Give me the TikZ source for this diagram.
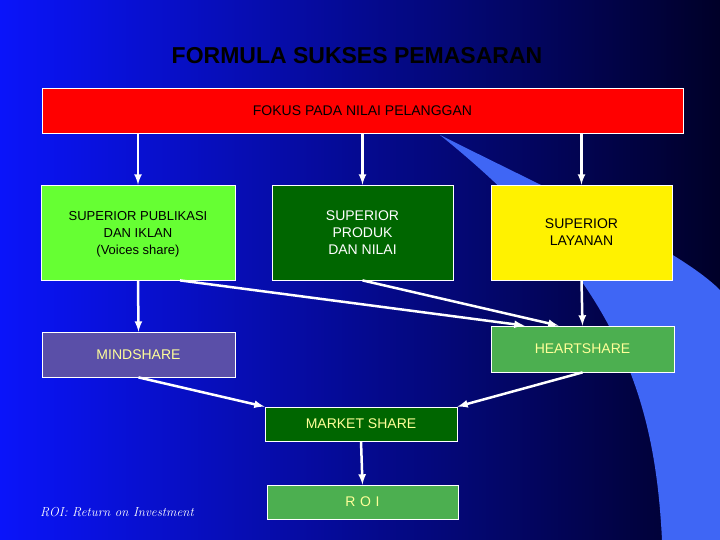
\documentclass[tikz,border=0pt]{standalone}
\usepackage{fontspec}
\setsansfont{Liberation Sans}
\usetikzlibrary{calc}
\tikzset{>=latex}
\tikzset{box/.style={draw=white,line width=0.8pt,inner sep=0pt,font=\sffamily\fontsize{14}{17}\selectfont,align=center}}
\tikzset{arr/.style={->,white,line width=2.5pt,shorten >=0pt}}
\definecolor{litegreen}{HTML}{66FF33}
\definecolor{darkgreen}{HTML}{006600}
\definecolor{midgreen}{HTML}{4CAF50}
\definecolor{mindblue}{HTML}{5A4FA8}
\definecolor{softyellow}{HTML}{FFFF99}
\definecolor{streak}{HTML}{3F66F5}
\begin{document}
\begin{tikzpicture}[x=1pt,y=-1pt]
        \useasboundingbox (0,0) rectangle (720,540);
        \shade[left color={rgb,255:red,10;green,20;blue,250},right color={rgb,255:red,0;green,0;blue,40}] (0,0) rectangle (720,540);
        \fill[streak] (440,135) .. controls (570,200) and (680,250) .. (720,290) -- (720,540) -- (662,540)
            .. controls (655,400) and (620,280) .. (440,135);

        \node[font=\sffamily\bfseries\fontsize{23}{27}\selectfont] (title) at (357,56) {FORMULA SUKSES PEMASARAN};

        \node[box,fill=red,minimum width=641pt,minimum height=45pt] (fokus) at (362.5,110.5) {FOKUS PADA NILAI PELANGGAN};

        \node[box,fill=litegreen,minimum width=194pt,minimum height=95pt] (pub) at (138,232.5) {};
        \node[font=\sffamily\fontsize{13}{17}\selectfont,align=center] (pubtxt) at (138,234) {SUPERIOR PUBLIKASI\\DAN IKLAN\\(Voices share)};
        \node[box,fill=darkgreen,text=white,minimum width=181pt,minimum height=95pt] (prod) at (362.5,232.5) {SUPERIOR\\PRODUK\\DAN NILAI};
        \node[box,fill=yellow,minimum width=181pt,minimum height=95pt] (lay) at (581.5,232.5) {SUPERIOR\\LAYANAN};

        \node[box,fill=mindblue,text=softyellow,minimum width=193pt,minimum height=45pt] (mind) at (138.5,354.5) {MINDSHARE};
        \node[box,fill=midgreen,text=softyellow,minimum width=183pt,minimum height=46pt] (heart) at (582.5,349) {HEARTSHARE};
        \node[box,fill=darkgreen,text=softyellow,minimum width=192pt,minimum height=34pt] (market) at (361,424) {MARKET SHARE};
        \node[box,fill=midgreen,text=softyellow,minimum width=191pt,minimum height=34pt] (roi) at (362.5,502) {R\,\,O\,\,I};

        \node[text=white,font=\itshape\fontsize{13}{15}\selectfont] (note) at (117,512) {ROI: Return on Investment};

        % arrows from the top box
        \draw[arr] (fokus.south -| pub) -- (pub.north);
        \draw[arr] (fokus.south -| prod) -- (prod.north);
        \draw[arr] (fokus.south -| lay) -- (lay.north);

        \coordinate (h1) at ($(heart.north west)+(34,0)$);
        \coordinate (h2) at ($(heart.north west)+(68,0)$);
        \draw[arr] ($(pub.south)+(42,0)$) -- (h1);
        \draw[arr] (prod.south) -- (h2);
        \draw[arr] (pub.south) -- (mind.north);
        \draw[arr] (lay.south) -- (heart.north);

        \draw[arr] (mind.south) -- (market.north west);
        \draw[arr] (heart.south) -- (market.north east);
        \draw[arr] (market.south) -- (roi.north);
    \end{tikzpicture}
\end{document}
